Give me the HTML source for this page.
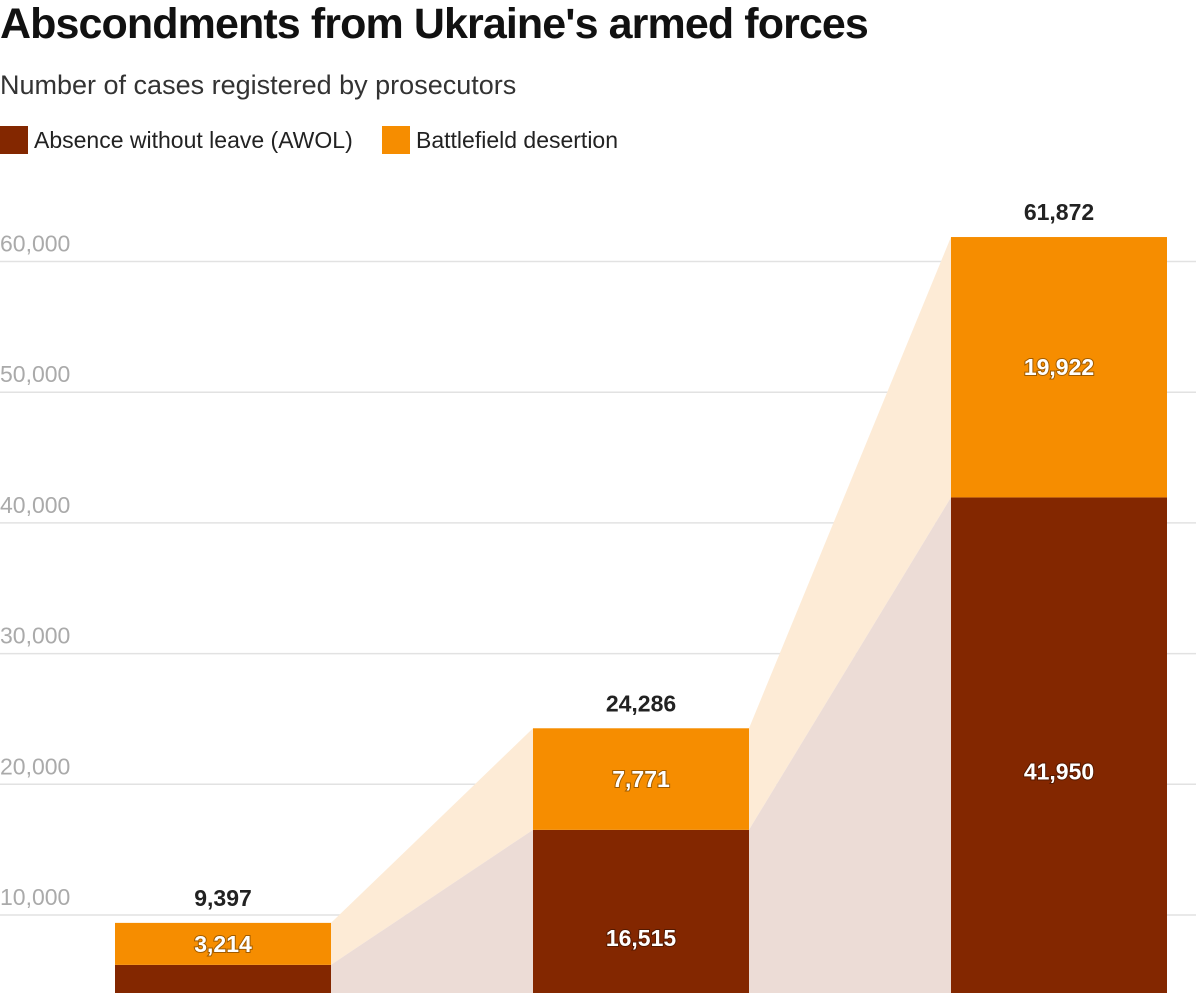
<!DOCTYPE html>
<html><head><meta charset="utf-8"><style>
html,body{margin:0;width:1196px;height:993px;overflow:hidden;background:#fff;font-family:"Liberation Sans",sans-serif;}
#title{position:absolute;left:0;top:0px;font-size:43px;font-weight:bold;color:#111;letter-spacing:-0.9px;margin:0;white-space:nowrap}
#sub{position:absolute;left:0;top:70px;font-size:27px;color:#333;white-space:nowrap}
.leg{position:absolute;top:126px;font-size:23px;color:#222;display:flex;align-items:center;white-space:nowrap}
.sw{width:28px;height:28px;margin-right:6px}
svg{position:absolute;left:0;top:0;overflow:hidden}
</style></head><body>
<h1 id="title">Abscondments from Ukraine's armed forces</h1>
<div id="sub">Number of cases registered by prosecutors</div>
<div class="leg" style="left:0"><div class="sw" style="background:#832700"></div>Absence without leave (AWOL)</div>
<div class="leg" style="left:382px"><div class="sw" style="background:#f68d00"></div>Battlefield desertion</div>
<svg id="chart" width="1196" height="993"></svg>
<script>
const categories=["2022","2023","2024"];
const awol=[6183,16515,41950];
const desertion=[3214,7771,19922];
const ticks=[10000,20000,30000,40000,50000,60000];
const tickLabels=["10,000","20,000","30,000","40,000","50,000","60,000"];
const svg=document.getElementById('chart');
const NS='http://www.w3.org/2000/svg';
const y=v=>1045.7-v*0.01307;
const barW=216;
const x=i=>115+i*418;
const yMaxPix=993;
function el(t,a){const e=document.createElementNS(NS,t);for(const k in a)e.setAttribute(k,a[k]);svg.appendChild(e);return e;}
ticks.forEach((t,i)=>{
 const l=el('line',{x1:0,x2:1196,y1:y(t),y2:y(t),stroke:'#e2e2e2','stroke-width':1.5});
 
 
 const tx=el('text',{x:0,y:y(t)-10,'font-size':23,fill:'#aaa'});tx.textContent=tickLabels[i];
 
 
});
for(let i=0;i<categories.length-1;i++){
 const x1=x(i)+barW,x2=x(i+1);
 const a1=y(awol[i]),a2=y(awol[i+1]),t1=y(awol[i]+desertion[i]),t2=y(awol[i+1]+desertion[i+1]);
 const p=el('polygon',{points:`${x1},${t1} ${x2},${t2} ${x2},${a2} ${x1},${a1}`,fill:'#fdebd6'});
 
 
 const q=el('polygon',{points:`${x1},${a1} ${x2},${a2} ${x2},${yMaxPix} ${x1},${yMaxPix}`,fill:'#ecdcd6'});
 
 
}
function lbl(xx,yy,txt,fill,name){
 const t=el('text',{x:xx,y:yy,'font-size':23,'font-weight':'bold',fill:fill,'text-anchor':'middle','dominant-baseline':'central'});
 if(fill==='#fff')t.setAttribute('style','paint-order:stroke;stroke:rgba(0,0,0,0.35);stroke-width:2px');
 t.textContent=txt;
 
 
}
categories.forEach((c,i)=>{
 const tot=awol[i]+desertion[i];
 const b1=el('rect',{x:x(i),y:y(awol[i]),width:barW,height:Math.max(0,yMaxPix-y(awol[i])),fill:'#832700'});
 
 
 const b2=el('rect',{x:x(i),y:y(tot),width:barW,height:y(awol[i])-y(tot),fill:'#f68d00'});
 
 
 const f=v=>v.toLocaleString('en-US');
 lbl(x(i)+barW/2,(y(awol[i])+y(tot))/2,f(desertion[i]),'#fff','desertion-value-label');
 const ay=(y(awol[i])+y(0))/2;
 if(ay<yMaxPix-10) lbl(x(i)+barW/2,ay,f(awol[i]),'#fff','awol-value-label');
 lbl(x(i)+barW/2,y(tot)-25,f(tot),'#222','total-value-label');
});
</script>
</body></html>
